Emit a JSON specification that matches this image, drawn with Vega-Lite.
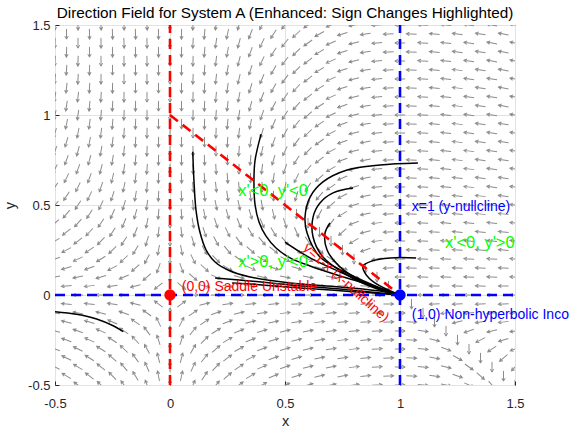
{
"$schema": "https://vega.github.io/schema/vega-lite/v6.json",
"width": 460,
"height": 360,
"autosize": {"type": "none"},
"padding": {"left": 55, "top": 25, "right": 55, "bottom": 42},
"background": "white",
"title": {"text": "Direction Field for System A (Enhanced: Sign Changes Highlighted)", "font": "Liberation Sans", "fontSize": 15.3, "fontWeight": "normal", "color": "#000000", "offset": 5, "dy": 7, "frame": "group", "anchor": "middle"},
"config": {
  "view": {"stroke": "#262626", "strokeWidth": 1},
  "axis": {"tickSize": -4, "tickColor": "#262626", "domain": false, "grid": true, "gridColor": "#e2e2e2", "labelFont": "Liberation Sans", "labelFontSize": 13, "labelColor": "#262626", "titleFont": "Liberation Sans", "titleFontSize": 14.5, "titleFontWeight": "normal", "titleColor": "#262626", "labelFlush": false, "labelOverlap": false}
},
"datasets": {
"field": [
{"x":-0.5,"y":-0.5,"a":-60},{"x":-0.5,"y":-0.4,"a":-64},{"x":-0.5,"y":-0.3,"a":-69},{"x":-0.5,"y":-0.2,"a":-75},{"x":-0.5,"y":-0.1,"a":-82},{"x":-0.5,"y":0,"a":-90},{"x":-0.5,"y":0.1,"a":-100},{"x":-0.5,"y":0.2,"a":-110},{"x":-0.5,"y":0.3,"a":-120},{"x":-0.5,"y":0.4,"a":-131},{"x":-0.5,"y":0.5,"a":-140},{"x":-0.5,"y":0.6,"a":-147},{"x":-0.5,"y":0.7,"a":-154},{"x":-0.5,"y":0.8,"a":-160},{"x":-0.5,"y":0.9,"a":-164},{"x":-0.5,"y":1,"a":-168},{"x":-0.5,"y":1.1,"a":-171},{"x":-0.5,"y":1.2,"a":-174},{"x":-0.5,"y":1.3,"a":-176},{"x":-0.5,"y":1.4,"a":-178},{"x":-0.5,"y":1.5,"a":180},
{"x":-0.4,"y":-0.5,"a":-54},{"x":-0.4,"y":-0.4,"a":-59},{"x":-0.4,"y":-0.3,"a":-64},{"x":-0.4,"y":-0.2,"a":-71},{"x":-0.4,"y":-0.1,"a":-80},{"x":-0.4,"y":0,"a":-90},{"x":-0.4,"y":0.1,"a":-102},{"x":-0.4,"y":0.2,"a":-115},{"x":-0.4,"y":0.3,"a":-127},{"x":-0.4,"y":0.4,"a":-138},{"x":-0.4,"y":0.5,"a":-147},{"x":-0.4,"y":0.6,"a":-154},{"x":-0.4,"y":0.7,"a":-160},{"x":-0.4,"y":0.8,"a":-165},{"x":-0.4,"y":0.9,"a":-169},{"x":-0.4,"y":1,"a":-172},{"x":-0.4,"y":1.1,"a":-174},{"x":-0.4,"y":1.2,"a":-177},{"x":-0.4,"y":1.3,"a":-178},{"x":-0.4,"y":1.4,"a":180},{"x":-0.4,"y":1.5,"a":179},
{"x":-0.3,"y":-0.5,"a":-47},{"x":-0.3,"y":-0.4,"a":-51},{"x":-0.3,"y":-0.3,"a":-58},{"x":-0.3,"y":-0.2,"a":-66},{"x":-0.3,"y":-0.1,"a":-76},{"x":-0.3,"y":0,"a":-90},{"x":-0.3,"y":0.1,"a":-106},{"x":-0.3,"y":0.2,"a":-122},{"x":-0.3,"y":0.3,"a":-136},{"x":-0.3,"y":0.4,"a":-146},{"x":-0.3,"y":0.5,"a":-155},{"x":-0.3,"y":0.6,"a":-161},{"x":-0.3,"y":0.7,"a":-166},{"x":-0.3,"y":0.8,"a":-170},{"x":-0.3,"y":0.9,"a":-173},{"x":-0.3,"y":1,"a":-175},{"x":-0.3,"y":1.1,"a":-177},{"x":-0.3,"y":1.2,"a":-179},{"x":-0.3,"y":1.3,"a":180},{"x":-0.3,"y":1.4,"a":179},{"x":-0.3,"y":1.5,"a":178},
{"x":-0.2,"y":-0.5,"a":-36},{"x":-0.2,"y":-0.4,"a":-40},{"x":-0.2,"y":-0.3,"a":-47},{"x":-0.2,"y":-0.2,"a":-56},{"x":-0.2,"y":-0.1,"a":-70},{"x":-0.2,"y":0,"a":-90},{"x":-0.2,"y":0.1,"a":-113},{"x":-0.2,"y":0.2,"a":-133},{"x":-0.2,"y":0.3,"a":-147},{"x":-0.2,"y":0.4,"a":-157},{"x":-0.2,"y":0.5,"a":-163},{"x":-0.2,"y":0.6,"a":-168},{"x":-0.2,"y":0.7,"a":-171},{"x":-0.2,"y":0.8,"a":-174},{"x":-0.2,"y":0.9,"a":-176},{"x":-0.2,"y":1,"a":-178},{"x":-0.2,"y":1.1,"a":-179},{"x":-0.2,"y":1.2,"a":180},{"x":-0.2,"y":1.3,"a":179},{"x":-0.2,"y":1.4,"a":178},{"x":-0.2,"y":1.5,"a":178},
{"x":-0.1,"y":-0.5,"a":-20},{"x":-0.1,"y":-0.4,"a":-24},{"x":-0.1,"y":-0.3,"a":-29},{"x":-0.1,"y":-0.2,"a":-37},{"x":-0.1,"y":-0.1,"a":-54},{"x":-0.1,"y":0,"a":-90},{"x":-0.1,"y":0.1,"a":-131},{"x":-0.1,"y":0.2,"a":-152},{"x":-0.1,"y":0.3,"a":-163},{"x":-0.1,"y":0.4,"a":-169},{"x":-0.1,"y":0.5,"a":-172},{"x":-0.1,"y":0.6,"a":-175},{"x":-0.1,"y":0.7,"a":-176},{"x":-0.1,"y":0.8,"a":-178},{"x":-0.1,"y":0.9,"a":-179},{"x":-0.1,"y":1,"a":-179},{"x":-0.1,"y":1.1,"a":180},{"x":-0.1,"y":1.2,"a":179},{"x":-0.1,"y":1.3,"a":179},{"x":-0.1,"y":1.4,"a":179},{"x":-0.1,"y":1.5,"a":178},
{"x":0,"y":-0.5,"a":0},{"x":0,"y":-0.4,"a":0},{"x":0,"y":-0.3,"a":0},{"x":0,"y":-0.2,"a":0},{"x":0,"y":-0.1,"a":0},{"x":0,"y":0.1,"a":180},{"x":0,"y":0.2,"a":180},{"x":0,"y":0.3,"a":180},{"x":0,"y":0.4,"a":180},{"x":0,"y":0.5,"a":180},{"x":0,"y":0.6,"a":180},{"x":0,"y":0.7,"a":180},{"x":0,"y":0.8,"a":180},{"x":0,"y":0.9,"a":180},{"x":0,"y":1,"a":180},{"x":0,"y":1.1,"a":180},{"x":0,"y":1.2,"a":180},{"x":0,"y":1.3,"a":180},{"x":0,"y":1.4,"a":180},{"x":0,"y":1.5,"a":180},
{"x":0.1,"y":-0.5,"a":22},{"x":0.1,"y":-0.4,"a":25},{"x":0.1,"y":-0.3,"a":30},{"x":0.1,"y":-0.2,"a":38},{"x":0.1,"y":-0.1,"a":55},{"x":0.1,"y":0,"a":90},{"x":0.1,"y":0.1,"a":131},{"x":0.1,"y":0.2,"a":154},{"x":0.1,"y":0.3,"a":164},{"x":0.1,"y":0.4,"a":170},{"x":0.1,"y":0.5,"a":174},{"x":0.1,"y":0.6,"a":176},{"x":0.1,"y":0.7,"a":178},{"x":0.1,"y":0.8,"a":179},{"x":0.1,"y":0.9,"a":180},{"x":0.1,"y":1,"a":-179},{"x":0.1,"y":1.1,"a":-179},{"x":0.1,"y":1.2,"a":-178},{"x":0.1,"y":1.3,"a":-178},{"x":0.1,"y":1.4,"a":-177},{"x":0.1,"y":1.5,"a":-177},
{"x":0.2,"y":-0.5,"a":40},{"x":0.2,"y":-0.4,"a":44},{"x":0.2,"y":-0.3,"a":50},{"x":0.2,"y":-0.2,"a":58},{"x":0.2,"y":-0.1,"a":71},{"x":0.2,"y":0,"a":90},{"x":0.2,"y":0.1,"a":114},{"x":0.2,"y":0.2,"a":136},{"x":0.2,"y":0.3,"a":152},{"x":0.2,"y":0.4,"a":162},{"x":0.2,"y":0.5,"a":169},{"x":0.2,"y":0.6,"a":174},{"x":0.2,"y":0.7,"a":177},{"x":0.2,"y":0.8,"a":180},{"x":0.2,"y":0.9,"a":-178},{"x":0.2,"y":1,"a":-176},{"x":0.2,"y":1.1,"a":-175},{"x":0.2,"y":1.2,"a":-174},{"x":0.2,"y":1.3,"a":-173},{"x":0.2,"y":1.4,"a":-172},{"x":0.2,"y":1.5,"a":-172},
{"x":0.3,"y":-0.5,"a":53},{"x":0.3,"y":-0.4,"a":56},{"x":0.3,"y":-0.3,"a":61},{"x":0.3,"y":-0.2,"a":68},{"x":0.3,"y":-0.1,"a":77},{"x":0.3,"y":0,"a":90},{"x":0.3,"y":0.1,"a":107},{"x":0.3,"y":0.2,"a":126},{"x":0.3,"y":0.3,"a":144},{"x":0.3,"y":0.4,"a":158},{"x":0.3,"y":0.5,"a":168},{"x":0.3,"y":0.6,"a":175},{"x":0.3,"y":0.7,"a":180},{"x":0.3,"y":0.8,"a":-176},{"x":0.3,"y":0.9,"a":-173},{"x":0.3,"y":1,"a":-171},{"x":0.3,"y":1.1,"a":-169},{"x":0.3,"y":1.2,"a":-167},{"x":0.3,"y":1.3,"a":-166},{"x":0.3,"y":1.4,"a":-165},{"x":0.3,"y":1.5,"a":-164},
{"x":0.4,"y":-0.5,"a":62},{"x":0.4,"y":-0.4,"a":65},{"x":0.4,"y":-0.3,"a":69},{"x":0.4,"y":-0.2,"a":74},{"x":0.4,"y":-0.1,"a":81},{"x":0.4,"y":0,"a":90},{"x":0.4,"y":0.1,"a":103},{"x":0.4,"y":0.2,"a":120},{"x":0.4,"y":0.3,"a":140},{"x":0.4,"y":0.4,"a":157},{"x":0.4,"y":0.5,"a":170},{"x":0.4,"y":0.6,"a":180},{"x":0.4,"y":0.7,"a":-173},{"x":0.4,"y":0.8,"a":-168},{"x":0.4,"y":0.9,"a":-164},{"x":0.4,"y":1,"a":-161},{"x":0.4,"y":1.1,"a":-159},{"x":0.4,"y":1.2,"a":-157},{"x":0.4,"y":1.3,"a":-155},{"x":0.4,"y":1.4,"a":-154},{"x":0.4,"y":1.5,"a":-153},
{"x":0.5,"y":-0.5,"a":69},{"x":0.5,"y":-0.4,"a":71},{"x":0.5,"y":-0.3,"a":74},{"x":0.5,"y":-0.2,"a":77},{"x":0.5,"y":-0.1,"a":83},{"x":0.5,"y":0,"a":90},{"x":0.5,"y":0.1,"a":101},{"x":0.5,"y":0.2,"a":118},{"x":0.5,"y":0.3,"a":140},{"x":0.5,"y":0.4,"a":162},{"x":0.5,"y":0.5,"a":180},{"x":0.5,"y":0.6,"a":-168},{"x":0.5,"y":0.7,"a":-160},{"x":0.5,"y":0.8,"a":-154},{"x":0.5,"y":0.9,"a":-150},{"x":0.5,"y":1,"a":-147},{"x":0.5,"y":1.1,"a":-145},{"x":0.5,"y":1.2,"a":-143},{"x":0.5,"y":1.3,"a":-142},{"x":0.5,"y":1.4,"a":-141},{"x":0.5,"y":1.5,"a":-140},
{"x":0.6,"y":-0.5,"a":74},{"x":0.6,"y":-0.4,"a":75},{"x":0.6,"y":-0.3,"a":77},{"x":0.6,"y":-0.2,"a":80},{"x":0.6,"y":-0.1,"a":84},{"x":0.6,"y":0,"a":90},{"x":0.6,"y":0.1,"a":100},{"x":0.6,"y":0.2,"a":118},{"x":0.6,"y":0.3,"a":147},{"x":0.6,"y":0.4,"a":180},{"x":0.6,"y":0.5,"a":-159},{"x":0.6,"y":0.6,"a":-147},{"x":0.6,"y":0.7,"a":-141},{"x":0.6,"y":0.8,"a":-136},{"x":0.6,"y":0.9,"a":-133},{"x":0.6,"y":1,"a":-131},{"x":0.6,"y":1.1,"a":-129},{"x":0.6,"y":1.2,"a":-128},{"x":0.6,"y":1.3,"a":-127},{"x":0.6,"y":1.4,"a":-126},{"x":0.6,"y":1.5,"a":-125},
{"x":0.7,"y":-0.5,"a":78},{"x":0.7,"y":-0.4,"a":79},{"x":0.7,"y":-0.3,"a":81},{"x":0.7,"y":-0.2,"a":82},{"x":0.7,"y":-0.1,"a":85},{"x":0.7,"y":0,"a":90},{"x":0.7,"y":0.1,"a":100},{"x":0.7,"y":0.2,"a":124},{"x":0.7,"y":0.3,"a":180},{"x":0.7,"y":0.4,"a":-143},{"x":0.7,"y":0.5,"a":-130},{"x":0.7,"y":0.6,"a":-124},{"x":0.7,"y":0.7,"a":-120},{"x":0.7,"y":0.8,"a":-118},{"x":0.7,"y":0.9,"a":-117},{"x":0.7,"y":1,"a":-116},{"x":0.7,"y":1.1,"a":-115},{"x":0.7,"y":1.2,"a":-114},{"x":0.7,"y":1.3,"a":-114},{"x":0.7,"y":1.4,"a":-113},{"x":0.7,"y":1.5,"a":-113},
{"x":0.8,"y":-0.5,"a":82},{"x":0.8,"y":-0.4,"a":83},{"x":0.8,"y":-0.3,"a":83},{"x":0.8,"y":-0.2,"a":84},{"x":0.8,"y":-0.1,"a":86},{"x":0.8,"y":0,"a":90},{"x":0.8,"y":0.1,"a":101},{"x":0.8,"y":0.2,"a":180},{"x":0.8,"y":0.3,"a":-120},{"x":0.8,"y":0.4,"a":-111},{"x":0.8,"y":0.5,"a":-108},{"x":0.8,"y":0.6,"a":-106},{"x":0.8,"y":0.7,"a":-105},{"x":0.8,"y":0.8,"a":-105},{"x":0.8,"y":0.9,"a":-104},{"x":0.8,"y":1,"a":-104},{"x":0.8,"y":1.1,"a":-104},{"x":0.8,"y":1.2,"a":-103},{"x":0.8,"y":1.3,"a":-103},{"x":0.8,"y":1.4,"a":-103},{"x":0.8,"y":1.5,"a":-103},
{"x":0.9,"y":-0.5,"a":86},{"x":0.9,"y":-0.4,"a":86},{"x":0.9,"y":-0.3,"a":86},{"x":0.9,"y":-0.2,"a":87},{"x":0.9,"y":-0.1,"a":88},{"x":0.9,"y":0,"a":90},{"x":0.9,"y":0.1,"a":180},{"x":0.9,"y":0.2,"a":-100},{"x":0.9,"y":0.3,"a":-97},{"x":0.9,"y":0.4,"a":-97},{"x":0.9,"y":0.5,"a":-96},{"x":0.9,"y":0.6,"a":-96},{"x":0.9,"y":0.7,"a":-96},{"x":0.9,"y":0.8,"a":-96},{"x":0.9,"y":0.9,"a":-96},{"x":0.9,"y":1,"a":-96},{"x":0.9,"y":1.1,"a":-95},{"x":0.9,"y":1.2,"a":-95},{"x":0.9,"y":1.3,"a":-95},{"x":0.9,"y":1.4,"a":-95},{"x":0.9,"y":1.5,"a":-95},
{"x":1,"y":-0.5,"a":90},{"x":1,"y":-0.4,"a":90},{"x":1,"y":-0.3,"a":90},{"x":1,"y":-0.2,"a":90},{"x":1,"y":-0.1,"a":90},{"x":1,"y":0.1,"a":-90},{"x":1,"y":0.2,"a":-90},{"x":1,"y":0.3,"a":-90},{"x":1,"y":0.4,"a":-90},{"x":1,"y":0.5,"a":-90},{"x":1,"y":0.6,"a":-90},{"x":1,"y":0.7,"a":-90},{"x":1,"y":0.8,"a":-90},{"x":1,"y":0.9,"a":-90},{"x":1,"y":1,"a":-90},{"x":1,"y":1.1,"a":-90},{"x":1,"y":1.2,"a":-90},{"x":1,"y":1.3,"a":-90},{"x":1,"y":1.4,"a":-90},{"x":1,"y":1.5,"a":-90},
{"x":1.1,"y":-0.5,"a":95},{"x":1.1,"y":-0.4,"a":95},{"x":1.1,"y":-0.3,"a":96},{"x":1.1,"y":-0.2,"a":98},{"x":1.1,"y":-0.1,"a":180},{"x":1.1,"y":0,"a":-90},{"x":1.1,"y":0.1,"a":-88},{"x":1.1,"y":0.2,"a":-87},{"x":1.1,"y":0.3,"a":-87},{"x":1.1,"y":0.4,"a":-87},{"x":1.1,"y":0.5,"a":-87},{"x":1.1,"y":0.6,"a":-87},{"x":1.1,"y":0.7,"a":-86},{"x":1.1,"y":0.8,"a":-86},{"x":1.1,"y":0.9,"a":-86},{"x":1.1,"y":1,"a":-86},{"x":1.1,"y":1.1,"a":-86},{"x":1.1,"y":1.2,"a":-86},{"x":1.1,"y":1.3,"a":-86},{"x":1.1,"y":1.4,"a":-86},{"x":1.1,"y":1.5,"a":-86},
{"x":1.2,"y":-0.5,"a":102},{"x":1.2,"y":-0.4,"a":105},{"x":1.2,"y":-0.3,"a":111},{"x":1.2,"y":-0.2,"a":180},{"x":1.2,"y":-0.1,"a":-97},{"x":1.2,"y":0,"a":-90},{"x":1.2,"y":0.1,"a":-88},{"x":1.2,"y":0.2,"a":-86},{"x":1.2,"y":0.3,"a":-86},{"x":1.2,"y":0.4,"a":-85},{"x":1.2,"y":0.5,"a":-85},{"x":1.2,"y":0.6,"a":-84},{"x":1.2,"y":0.7,"a":-84},{"x":1.2,"y":0.8,"a":-84},{"x":1.2,"y":0.9,"a":-84},{"x":1.2,"y":1,"a":-84},{"x":1.2,"y":1.1,"a":-84},{"x":1.2,"y":1.2,"a":-84},{"x":1.2,"y":1.3,"a":-84},{"x":1.2,"y":1.4,"a":-84},{"x":1.2,"y":1.5,"a":-83},
{"x":1.3,"y":-0.5,"a":114},{"x":1.3,"y":-0.4,"a":126},{"x":1.3,"y":-0.3,"a":180},{"x":1.3,"y":-0.2,"a":-110},{"x":1.3,"y":-0.1,"a":-95},{"x":1.3,"y":0,"a":-90},{"x":1.3,"y":0.1,"a":-87},{"x":1.3,"y":0.2,"a":-86},{"x":1.3,"y":0.3,"a":-85},{"x":1.3,"y":0.4,"a":-84},{"x":1.3,"y":0.5,"a":-84},{"x":1.3,"y":0.6,"a":-83},{"x":1.3,"y":0.7,"a":-83},{"x":1.3,"y":0.8,"a":-83},{"x":1.3,"y":0.9,"a":-82},{"x":1.3,"y":1,"a":-82},{"x":1.3,"y":1.1,"a":-82},{"x":1.3,"y":1.2,"a":-82},{"x":1.3,"y":1.3,"a":-82},{"x":1.3,"y":1.4,"a":-82},{"x":1.3,"y":1.5,"a":-81},
{"x":1.4,"y":-0.5,"a":138},{"x":1.4,"y":-0.4,"a":180},{"x":1.4,"y":-0.3,"a":-124},{"x":1.4,"y":-0.2,"a":-103},{"x":1.4,"y":-0.1,"a":-94},{"x":1.4,"y":0,"a":-90},{"x":1.4,"y":0.1,"a":-87},{"x":1.4,"y":0.2,"a":-86},{"x":1.4,"y":0.3,"a":-85},{"x":1.4,"y":0.4,"a":-84},{"x":1.4,"y":0.5,"a":-83},{"x":1.4,"y":0.6,"a":-82},{"x":1.4,"y":0.7,"a":-82},{"x":1.4,"y":0.8,"a":-82},{"x":1.4,"y":0.9,"a":-81},{"x":1.4,"y":1,"a":-81},{"x":1.4,"y":1.1,"a":-81},{"x":1.4,"y":1.2,"a":-81},{"x":1.4,"y":1.3,"a":-80},{"x":1.4,"y":1.4,"a":-80},{"x":1.4,"y":1.5,"a":-80},
{"x":1.5,"y":-0.5,"a":180},{"x":1.5,"y":-0.4,"a":-136},{"x":1.5,"y":-0.3,"a":-111},{"x":1.5,"y":-0.2,"a":-100},{"x":1.5,"y":-0.1,"a":-94},{"x":1.5,"y":0,"a":-90},{"x":1.5,"y":0.1,"a":-88},{"x":1.5,"y":0.2,"a":-86},{"x":1.5,"y":0.3,"a":-84},{"x":1.5,"y":0.4,"a":-83},{"x":1.5,"y":0.5,"a":-83},{"x":1.5,"y":0.6,"a":-82},{"x":1.5,"y":0.7,"a":-81},{"x":1.5,"y":0.8,"a":-81},{"x":1.5,"y":0.9,"a":-81},{"x":1.5,"y":1,"a":-80},{"x":1.5,"y":1.1,"a":-80},{"x":1.5,"y":1.2,"a":-80},{"x":1.5,"y":1.3,"a":-79},{"x":1.5,"y":1.4,"a":-79},{"x":1.5,"y":1.5,"a":-79},
{"x":-0.45,"y":-0.45,"a":-59},{"x":-0.45,"y":-0.35,"a":-64},{"x":-0.45,"y":-0.25,"a":-70},{"x":-0.45,"y":-0.15,"a":-77},{"x":-0.45,"y":-0.05,"a":-85},{"x":-0.45,"y":0.05,"a":-95},{"x":-0.45,"y":0.15,"a":-106},{"x":-0.45,"y":0.25,"a":-118},{"x":-0.45,"y":0.35,"a":-129},{"x":-0.45,"y":0.45,"a":-139},{"x":-0.45,"y":0.55,"a":-147},{"x":-0.45,"y":0.65,"a":-154},{"x":-0.45,"y":0.75,"a":-160},{"x":-0.45,"y":0.85,"a":-164},{"x":-0.45,"y":0.95,"a":-168},{"x":-0.45,"y":1.05,"a":-171},{"x":-0.45,"y":1.15,"a":-174},{"x":-0.45,"y":1.25,"a":-176},{"x":-0.45,"y":1.35,"a":-178},{"x":-0.45,"y":1.45,"a":180},
{"x":-0.35,"y":-0.45,"a":-53},{"x":-0.35,"y":-0.35,"a":-58},{"x":-0.35,"y":-0.25,"a":-65},{"x":-0.35,"y":-0.15,"a":-73},{"x":-0.35,"y":-0.05,"a":-84},{"x":-0.35,"y":0.05,"a":-97},{"x":-0.35,"y":0.15,"a":-111},{"x":-0.35,"y":0.25,"a":-124},{"x":-0.35,"y":0.35,"a":-137},{"x":-0.35,"y":0.45,"a":-147},{"x":-0.35,"y":0.55,"a":-154},{"x":-0.35,"y":0.65,"a":-160},{"x":-0.35,"y":0.75,"a":-165},{"x":-0.35,"y":0.85,"a":-169},{"x":-0.35,"y":0.95,"a":-172},{"x":-0.35,"y":1.05,"a":-175},{"x":-0.35,"y":1.15,"a":-177},{"x":-0.35,"y":1.25,"a":-178},{"x":-0.35,"y":1.35,"a":180},{"x":-0.35,"y":1.45,"a":179},
{"x":-0.25,"y":-0.45,"a":-44},{"x":-0.25,"y":-0.35,"a":-49},{"x":-0.25,"y":-0.25,"a":-57},{"x":-0.25,"y":-0.15,"a":-67},{"x":-0.25,"y":-0.05,"a":-81},{"x":-0.25,"y":0.05,"a":-99},{"x":-0.25,"y":0.15,"a":-118},{"x":-0.25,"y":0.25,"a":-134},{"x":-0.25,"y":0.35,"a":-147},{"x":-0.25,"y":0.45,"a":-156},{"x":-0.25,"y":0.55,"a":-162},{"x":-0.25,"y":0.65,"a":-167},{"x":-0.25,"y":0.75,"a":-170},{"x":-0.25,"y":0.85,"a":-173},{"x":-0.25,"y":0.95,"a":-175},{"x":-0.25,"y":1.05,"a":-177},{"x":-0.25,"y":1.15,"a":-179},{"x":-0.25,"y":1.25,"a":180},{"x":-0.25,"y":1.35,"a":179},{"x":-0.25,"y":1.45,"a":178},
{"x":-0.15,"y":-0.45,"a":-31},{"x":-0.15,"y":-0.35,"a":-36},{"x":-0.15,"y":-0.25,"a":-43},{"x":-0.15,"y":-0.15,"a":-55},{"x":-0.15,"y":-0.05,"a":-76},{"x":-0.15,"y":0.05,"a":-105},{"x":-0.15,"y":0.15,"a":-132},{"x":-0.15,"y":0.25,"a":-149},{"x":-0.15,"y":0.35,"a":-159},{"x":-0.15,"y":0.45,"a":-165},{"x":-0.15,"y":0.55,"a":-170},{"x":-0.15,"y":0.65,"a":-173},{"x":-0.15,"y":0.75,"a":-175},{"x":-0.15,"y":0.85,"a":-177},{"x":-0.15,"y":0.95,"a":-178},{"x":-0.15,"y":1.05,"a":-179},{"x":-0.15,"y":1.15,"a":180},{"x":-0.15,"y":1.25,"a":179},{"x":-0.15,"y":1.35,"a":179},{"x":-0.15,"y":1.45,"a":178},
{"x":-0.05,"y":-0.45,"a":-11},{"x":-0.05,"y":-0.35,"a":-14},{"x":-0.05,"y":-0.25,"a":-18},{"x":-0.05,"y":-0.15,"a":-26},{"x":-0.05,"y":-0.05,"a":-53},{"x":-0.05,"y":0.05,"a":-129},{"x":-0.05,"y":0.15,"a":-160},{"x":-0.05,"y":0.25,"a":-169},{"x":-0.05,"y":0.35,"a":-173},{"x":-0.05,"y":0.45,"a":-175},{"x":-0.05,"y":0.55,"a":-177},{"x":-0.05,"y":0.65,"a":-178},{"x":-0.05,"y":0.75,"a":-179},{"x":-0.05,"y":0.85,"a":-179},{"x":-0.05,"y":0.95,"a":180},{"x":-0.05,"y":1.05,"a":180},{"x":-0.05,"y":1.15,"a":180},{"x":-0.05,"y":1.25,"a":179},{"x":-0.05,"y":1.35,"a":179},{"x":-0.05,"y":1.45,"a":179},
{"x":0.05,"y":-0.45,"a":12},{"x":0.05,"y":-0.35,"a":14},{"x":0.05,"y":-0.25,"a":18},{"x":0.05,"y":-0.15,"a":26},{"x":0.05,"y":-0.05,"a":53},{"x":0.05,"y":0.05,"a":130},{"x":0.05,"y":0.15,"a":160},{"x":0.05,"y":0.25,"a":169},{"x":0.05,"y":0.35,"a":173},{"x":0.05,"y":0.45,"a":176},{"x":0.05,"y":0.55,"a":177},{"x":0.05,"y":0.65,"a":178},{"x":0.05,"y":0.75,"a":179},{"x":0.05,"y":0.85,"a":180},{"x":0.05,"y":0.95,"a":180},{"x":0.05,"y":1.05,"a":180},{"x":0.05,"y":1.15,"a":-179},{"x":0.05,"y":1.25,"a":-179},{"x":0.05,"y":1.35,"a":-179},{"x":0.05,"y":1.45,"a":-179},
{"x":0.15,"y":-0.45,"a":33},{"x":0.15,"y":-0.35,"a":38},{"x":0.15,"y":-0.25,"a":45},{"x":0.15,"y":-0.15,"a":56},{"x":0.15,"y":-0.05,"a":76},{"x":0.15,"y":0.05,"a":105},{"x":0.15,"y":0.15,"a":133},{"x":0.15,"y":0.25,"a":152},{"x":0.15,"y":0.35,"a":162},{"x":0.15,"y":0.45,"a":169},{"x":0.15,"y":0.55,"a":173},{"x":0.15,"y":0.65,"a":176},{"x":0.15,"y":0.75,"a":178},{"x":0.15,"y":0.85,"a":180},{"x":0.15,"y":0.95,"a":-179},{"x":0.15,"y":1.05,"a":-178},{"x":0.15,"y":1.15,"a":-177},{"x":0.15,"y":1.25,"a":-176},{"x":0.15,"y":1.35,"a":-175},{"x":0.15,"y":1.45,"a":-175},
{"x":0.25,"y":-0.45,"a":49},{"x":0.25,"y":-0.35,"a":53},{"x":0.25,"y":-0.25,"a":60},{"x":0.25,"y":-0.15,"a":69},{"x":0.25,"y":-0.05,"a":82},{"x":0.25,"y":0.05,"a":99},{"x":0.25,"y":0.15,"a":120},{"x":0.25,"y":0.25,"a":140},{"x":0.25,"y":0.35,"a":154},{"x":0.25,"y":0.45,"a":164},{"x":0.25,"y":0.55,"a":171},{"x":0.25,"y":0.65,"a":176},{"x":0.25,"y":0.75,"a":180},{"x":0.25,"y":0.85,"a":-177},{"x":0.25,"y":0.95,"a":-175},{"x":0.25,"y":1.05,"a":-173},{"x":0.25,"y":1.15,"a":-172},{"x":0.25,"y":1.25,"a":-170},{"x":0.25,"y":1.35,"a":-169},{"x":0.25,"y":1.45,"a":-168},
{"x":0.35,"y":-0.45,"a":59},{"x":0.35,"y":-0.35,"a":63},{"x":0.35,"y":-0.25,"a":68},{"x":0.35,"y":-0.15,"a":75},{"x":0.35,"y":-0.05,"a":84},{"x":0.35,"y":0.05,"a":97},{"x":0.35,"y":0.15,"a":114},{"x":0.35,"y":0.25,"a":132},{"x":0.35,"y":0.35,"a":150},{"x":0.35,"y":0.45,"a":163},{"x":0.35,"y":0.55,"a":173},{"x":0.35,"y":0.65,"a":180},{"x":0.35,"y":0.75,"a":-175},{"x":0.35,"y":0.85,"a":-171},{"x":0.35,"y":0.95,"a":-168},{"x":0.35,"y":1.05,"a":-165},{"x":0.35,"y":1.15,"a":-163},{"x":0.35,"y":1.25,"a":-162},{"x":0.35,"y":1.35,"a":-160},{"x":0.35,"y":1.45,"a":-159},
{"x":0.45,"y":-0.45,"a":67},{"x":0.45,"y":-0.35,"a":70},{"x":0.45,"y":-0.25,"a":73},{"x":0.45,"y":-0.15,"a":78},{"x":0.45,"y":-0.05,"a":85},{"x":0.45,"y":0.05,"a":95},{"x":0.45,"y":0.15,"a":110},{"x":0.45,"y":0.25,"a":129},{"x":0.45,"y":0.35,"a":149},{"x":0.45,"y":0.45,"a":167},{"x":0.45,"y":0.55,"a":180},{"x":0.45,"y":0.65,"a":-171},{"x":0.45,"y":0.75,"a":-164},{"x":0.45,"y":0.85,"a":-160},{"x":0.45,"y":0.95,"a":-156},{"x":0.45,"y":1.05,"a":-153},{"x":0.45,"y":1.15,"a":-151},{"x":0.45,"y":1.25,"a":-150},{"x":0.45,"y":1.35,"a":-148},{"x":0.45,"y":1.45,"a":-147},
{"x":0.55,"y":-0.45,"a":72},{"x":0.55,"y":-0.35,"a":74},{"x":0.55,"y":-0.25,"a":77},{"x":0.55,"y":-0.15,"a":81},{"x":0.55,"y":-0.05,"a":86},{"x":0.55,"y":0.05,"a":95},{"x":0.55,"y":0.15,"a":108},{"x":0.55,"y":0.25,"a":129},{"x":0.55,"y":0.35,"a":156},{"x":0.55,"y":0.45,"a":180},{"x":0.55,"y":0.55,"a":-164},{"x":0.55,"y":0.65,"a":-154},{"x":0.55,"y":0.75,"a":-148},{"x":0.55,"y":0.85,"a":-144},{"x":0.55,"y":0.95,"a":-141},{"x":0.55,"y":1.05,"a":-138},{"x":0.55,"y":1.15,"a":-137},{"x":0.55,"y":1.25,"a":-135},{"x":0.55,"y":1.35,"a":-134},{"x":0.55,"y":1.45,"a":-133},
{"x":0.65,"y":-0.45,"a":77},{"x":0.65,"y":-0.35,"a":78},{"x":0.65,"y":-0.25,"a":80},{"x":0.65,"y":-0.15,"a":83},{"x":0.65,"y":-0.05,"a":87},{"x":0.65,"y":0.05,"a":94},{"x":0.65,"y":0.15,"a":107},{"x":0.65,"y":0.25,"a":136},{"x":0.65,"y":0.35,"a":180},{"x":0.65,"y":0.45,"a":-152},{"x":0.65,"y":0.55,"a":-139},{"x":0.65,"y":0.65,"a":-132},{"x":0.65,"y":0.75,"a":-128},{"x":0.65,"y":0.85,"a":-126},{"x":0.65,"y":0.95,"a":-124},{"x":0.65,"y":1.05,"a":-122},{"x":0.65,"y":1.15,"a":-121},{"x":0.65,"y":1.25,"a":-120},{"x":0.65,"y":1.35,"a":-120},{"x":0.65,"y":1.45,"a":-119},
{"x":0.75,"y":-0.45,"a":80},{"x":0.75,"y":-0.35,"a":81},{"x":0.75,"y":-0.25,"a":83},{"x":0.75,"y":-0.15,"a":84},{"x":0.75,"y":-0.05,"a":88},{"x":0.75,"y":0.05,"a":94},{"x":0.75,"y":0.15,"a":111},{"x":0.75,"y":0.25,"a":180},{"x":0.75,"y":0.35,"a":-132},{"x":0.75,"y":0.45,"a":-120},{"x":0.75,"y":0.55,"a":-116},{"x":0.75,"y":0.65,"a":-113},{"x":0.75,"y":0.75,"a":-111},{"x":0.75,"y":0.85,"a":-110},{"x":0.75,"y":0.95,"a":-109},{"x":0.75,"y":1.05,"a":-109},{"x":0.75,"y":1.15,"a":-108},{"x":0.75,"y":1.25,"a":-108},{"x":0.75,"y":1.35,"a":-108},{"x":0.75,"y":1.45,"a":-107},
{"x":0.85,"y":-0.45,"a":84},{"x":0.85,"y":-0.35,"a":84},{"x":0.85,"y":-0.25,"a":85},{"x":0.85,"y":-0.15,"a":86},{"x":0.85,"y":-0.05,"a":88},{"x":0.85,"y":0.05,"a":94},{"x":0.85,"y":0.15,"a":180},{"x":0.85,"y":0.25,"a":-109},{"x":0.85,"y":0.35,"a":-104},{"x":0.85,"y":0.45,"a":-102},{"x":0.85,"y":0.55,"a":-101},{"x":0.85,"y":0.65,"a":-100},{"x":0.85,"y":0.75,"a":-100},{"x":0.85,"y":0.85,"a":-100},{"x":0.85,"y":0.95,"a":-99},{"x":0.85,"y":1.05,"a":-99},{"x":0.85,"y":1.15,"a":-99},{"x":0.85,"y":1.25,"a":-99},{"x":0.85,"y":1.35,"a":-99},{"x":0.85,"y":1.45,"a":-99},
{"x":0.95,"y":-0.45,"a":88},{"x":0.95,"y":-0.35,"a":88},{"x":0.95,"y":-0.25,"a":88},{"x":0.95,"y":-0.15,"a":88},{"x":0.95,"y":-0.05,"a":89},{"x":0.95,"y":0.05,"a":180},{"x":0.95,"y":0.15,"a":-94},{"x":0.95,"y":0.25,"a":-93},{"x":0.95,"y":0.35,"a":-93},{"x":0.95,"y":0.45,"a":-93},{"x":0.95,"y":0.55,"a":-93},{"x":0.95,"y":0.65,"a":-93},{"x":0.95,"y":0.75,"a":-93},{"x":0.95,"y":0.85,"a":-93},{"x":0.95,"y":0.95,"a":-92},{"x":0.95,"y":1.05,"a":-92},{"x":0.95,"y":1.15,"a":-92},{"x":0.95,"y":1.25,"a":-92},{"x":0.95,"y":1.35,"a":-92},{"x":0.95,"y":1.45,"a":-92},
{"x":1.05,"y":-0.45,"a":92},{"x":1.05,"y":-0.35,"a":93},{"x":1.05,"y":-0.25,"a":93},{"x":1.05,"y":-0.15,"a":93},{"x":1.05,"y":-0.05,"a":180},{"x":1.05,"y":0.05,"a":-89},{"x":1.05,"y":0.15,"a":-88},{"x":1.05,"y":0.25,"a":-88},{"x":1.05,"y":0.35,"a":-88},{"x":1.05,"y":0.45,"a":-88},{"x":1.05,"y":0.55,"a":-88},{"x":1.05,"y":0.65,"a":-88},{"x":1.05,"y":0.75,"a":-88},{"x":1.05,"y":0.85,"a":-88},{"x":1.05,"y":0.95,"a":-88},{"x":1.05,"y":1.05,"a":-88},{"x":1.05,"y":1.15,"a":-88},{"x":1.05,"y":1.25,"a":-88},{"x":1.05,"y":1.35,"a":-88},{"x":1.05,"y":1.45,"a":-88},
{"x":1.15,"y":-0.45,"a":99},{"x":1.15,"y":-0.35,"a":100},{"x":1.15,"y":-0.25,"a":104},{"x":1.15,"y":-0.15,"a":180},{"x":1.15,"y":-0.05,"a":-93},{"x":1.15,"y":0.05,"a":-89},{"x":1.15,"y":0.15,"a":-87},{"x":1.15,"y":0.25,"a":-86},{"x":1.15,"y":0.35,"a":-86},{"x":1.15,"y":0.45,"a":-86},{"x":1.15,"y":0.55,"a":-85},{"x":1.15,"y":0.65,"a":-85},{"x":1.15,"y":0.75,"a":-85},{"x":1.15,"y":0.85,"a":-85},{"x":1.15,"y":0.95,"a":-85},{"x":1.15,"y":1.05,"a":-85},{"x":1.15,"y":1.15,"a":-85},{"x":1.15,"y":1.25,"a":-85},{"x":1.15,"y":1.35,"a":-85},{"x":1.15,"y":1.45,"a":-85},
{"x":1.25,"y":-0.45,"a":109},{"x":1.25,"y":-0.35,"a":119},{"x":1.25,"y":-0.25,"a":180},{"x":1.25,"y":-0.15,"a":-103},{"x":1.25,"y":-0.05,"a":-92},{"x":1.25,"y":0.05,"a":-88},{"x":1.25,"y":0.15,"a":-87},{"x":1.25,"y":0.25,"a":-86},{"x":1.25,"y":0.35,"a":-85},{"x":1.25,"y":0.45,"a":-84},{"x":1.25,"y":0.55,"a":-84},{"x":1.25,"y":0.65,"a":-84},{"x":1.25,"y":0.75,"a":-83},{"x":1.25,"y":0.85,"a":-83},{"x":1.25,"y":0.95,"a":-83},{"x":1.25,"y":1.05,"a":-83},{"x":1.25,"y":1.15,"a":-83},{"x":1.25,"y":1.25,"a":-83},{"x":1.25,"y":1.35,"a":-82},{"x":1.25,"y":1.45,"a":-82},
{"x":1.35,"y":-0.45,"a":132},{"x":1.35,"y":-0.35,"a":180},{"x":1.35,"y":-0.25,"a":-117},{"x":1.35,"y":-0.15,"a":-99},{"x":1.35,"y":-0.05,"a":-92},{"x":1.35,"y":0.05,"a":-88},{"x":1.35,"y":0.15,"a":-87},{"x":1.35,"y":0.25,"a":-85},{"x":1.35,"y":0.35,"a":-84},{"x":1.35,"y":0.45,"a":-83},{"x":1.35,"y":0.55,"a":-83},{"x":1.35,"y":0.65,"a":-82},{"x":1.35,"y":0.75,"a":-82},{"x":1.35,"y":0.85,"a":-82},{"x":1.35,"y":0.95,"a":-82},{"x":1.35,"y":1.05,"a":-81},{"x":1.35,"y":1.15,"a":-81},{"x":1.35,"y":1.25,"a":-81},{"x":1.35,"y":1.35,"a":-81},{"x":1.35,"y":1.45,"a":-81},
{"x":1.45,"y":-0.45,"a":180},{"x":1.45,"y":-0.35,"a":-130},{"x":1.45,"y":-0.25,"a":-107},{"x":1.45,"y":-0.15,"a":-97},{"x":1.45,"y":-0.05,"a":-92},{"x":1.45,"y":0.05,"a":-89},{"x":1.45,"y":0.15,"a":-87},{"x":1.45,"y":0.25,"a":-85},{"x":1.45,"y":0.35,"a":-84},{"x":1.45,"y":0.45,"a":-83},{"x":1.45,"y":0.55,"a":-82},{"x":1.45,"y":0.65,"a":-82},{"x":1.45,"y":0.75,"a":-81},{"x":1.45,"y":0.85,"a":-81},{"x":1.45,"y":0.95,"a":-81},{"x":1.45,"y":1.05,"a":-80},{"x":1.45,"y":1.15,"a":-80},{"x":1.45,"y":1.25,"a":-80},{"x":1.45,"y":1.35,"a":-80},{"x":1.45,"y":1.45,"a":-80}
],
"traj": [
{"id":"A","i":0,"x":0.099,"y":0.796},{"id":"A","i":1,"x":0.104,"y":0.639},{"id":"A","i":2,"x":0.113,"y":0.472},{"id":"A","i":3,"x":0.13,"y":0.35},{"id":"A","i":4,"x":0.157,"y":0.25},{"id":"A","i":5,"x":0.196,"y":0.183},{"id":"A","i":6,"x":0.252,"y":0.139},{"id":"A","i":7,"x":0.348,"y":0.1},{"id":"A","i":8,"x":0.522,"y":0.067},{"id":"A","i":9,"x":0.739,"y":0.044},{"id":"A","i":10,"x":0.913,"y":0.022},{"id":"A","i":11,"x":1.0,"y":0.0},
{"id":"B","i":0,"x":0.396,"y":0.894},{"id":"B","i":1,"x":0.37,"y":0.75},{"id":"B","i":2,"x":0.365,"y":0.639},{"id":"B","i":3,"x":0.37,"y":0.5},{"id":"B","i":4,"x":0.387,"y":0.406},{"id":"B","i":5,"x":0.417,"y":0.328},{"id":"B","i":6,"x":0.461,"y":0.261},{"id":"B","i":7,"x":0.522,"y":0.206},{"id":"B","i":8,"x":0.609,"y":0.161},{"id":"B","i":9,"x":0.739,"y":0.106},{"id":"B","i":10,"x":0.87,"y":0.056},{"id":"B","i":11,"x":1.0,"y":0.0},
{"id":"C","i":0,"x":0.196,"y":0.094},{"id":"C","i":1,"x":0.348,"y":0.078},{"id":"C","i":2,"x":0.522,"y":0.056},{"id":"C","i":3,"x":0.739,"y":0.033},{"id":"C","i":4,"x":1.0,"y":0.0},
{"id":"D","i":0,"x":0.27,"y":0.067},{"id":"D","i":1,"x":0.4,"y":0.056},{"id":"D","i":2,"x":0.565,"y":0.039},{"id":"D","i":3,"x":0.78,"y":0.02},{"id":"D","i":4,"x":1.0,"y":0.0},
{"id":"E","i":0,"x":1.078,"y":0.733},{"id":"E","i":1,"x":0.913,"y":0.722},{"id":"E","i":2,"x":0.77,"y":0.694},{"id":"E","i":3,"x":0.665,"y":0.628},{"id":"E","i":4,"x":0.609,"y":0.544},{"id":"E","i":5,"x":0.587,"y":0.433},{"id":"E","i":6,"x":0.596,"y":0.344},{"id":"E","i":7,"x":0.652,"y":0.211},{"id":"E","i":8,"x":0.77,"y":0.122},{"id":"E","i":9,"x":0.913,"y":0.039},{"id":"E","i":10,"x":1.0,"y":0.0},
{"id":"F","i":0,"x":0.796,"y":0.594},{"id":"F","i":1,"x":0.709,"y":0.567},{"id":"F","i":2,"x":0.652,"y":0.511},{"id":"F","i":3,"x":0.622,"y":0.433},{"id":"F","i":4,"x":0.622,"y":0.322},{"id":"F","i":5,"x":0.665,"y":0.211},{"id":"F","i":6,"x":0.77,"y":0.111},{"id":"F","i":7,"x":0.913,"y":0.028},{"id":"F","i":8,"x":1.0,"y":0.0},
{"id":"G","i":0,"x":0.696,"y":0.4},{"id":"G","i":1,"x":0.674,"y":0.344},{"id":"G","i":2,"x":0.683,"y":0.25},{"id":"G","i":3,"x":0.739,"y":0.156},{"id":"G","i":4,"x":0.839,"y":0.072},{"id":"G","i":5,"x":1.0,"y":0.0},
{"id":"I","i":0,"x":0.5,"y":0.294},{"id":"I","i":1,"x":0.609,"y":0.206},{"id":"I","i":2,"x":0.739,"y":0.128},{"id":"I","i":3,"x":0.87,"y":0.056},{"id":"I","i":4,"x":1.0,"y":0.0},
{"id":"J","i":0,"x":1.07,"y":0.206},{"id":"J","i":1,"x":0.957,"y":0.206},{"id":"J","i":2,"x":0.878,"y":0.189},{"id":"J","i":3,"x":0.839,"y":0.161},{"id":"J","i":4,"x":0.848,"y":0.122},{"id":"J","i":5,"x":0.891,"y":0.067},{"id":"J","i":6,"x":1.0,"y":0.0},
{"id":"K","i":0,"x":-0.5,"y":-0.093},{"id":"K","i":1,"x":-0.406,"y":-0.107},{"id":"K","i":2,"x":-0.319,"y":-0.133},{"id":"K","i":3,"x":-0.247,"y":-0.171},{"id":"K","i":4,"x":-0.203,"y":-0.204}
],
"nc": [
{"x":0,"y":-0.5,"x2":0,"y2":1.5,"c":"r"},
{"x":0,"y":1,"x2":1,"y2":0,"c":"r"},
{"x":1,"y":-0.5,"x2":1,"y2":1.5,"c":"b"},
{"x":-0.5,"y":0,"x2":1.5,"y2":0,"c":"b"}
]
},
"encoding": {
  "x": {"field": "x", "type": "quantitative", "scale": {"domain": [-0.5, 1.5], "nice": false, "zero": false}, "axis": {"values": [-0.5, 0, 0.5, 1, 1.5], "labelExpr": "toString(datum.value)", "title": "x", "labelPadding": 16, "titlePadding": 4}},
  "y": {"field": "y", "type": "quantitative", "scale": {"domain": [-0.5, 1.5], "nice": false, "zero": false}, "axis": {"values": [-0.5, 0, 0.5, 1, 1.5], "labelExpr": "toString(datum.value)", "title": "y", "labelPadding": 9, "titlePadding": 10}}
},
"layer": [
  {"data": {"name": "field"}, "mark": {"type": "point", "shape": "M0,1L0,-1M-0.32,-0.42L0,-1L0.32,-0.42", "filled": false, "color": "#8c8c8c", "strokeWidth": 1, "size": 105, "opacity": 1, "clip": true},
   "encoding": {"angle": {"field": "a", "type": "quantitative", "scale": null}}},
  {"data": {"name": "traj"}, "mark": {"type": "line", "color": "#000000", "strokeWidth": 1.5, "interpolate": "catmull-rom", "clip": true},
   "encoding": {"detail": {"field": "id", "type": "nominal"}, "order": {"field": "i", "type": "quantitative"}}},
  {"data": {"name": "nc"}, "mark": {"type": "rule", "strokeWidth": 2.6, "strokeDash": [10, 6], "clip": true},
   "encoding": {"x2": {"field": "x2"}, "y2": {"field": "y2"}, "color": {"field": "c", "type": "nominal", "scale": {"domain": ["r", "b"], "range": ["#ff0000", "#0000ff"]}, "legend": null}}},
  {"data": {"values": [{"x": 0, "y": 0, "c": "r"}, {"x": 1, "y": 0, "c": "b"}]}, "mark": {"type": "point", "shape": "circle", "filled": true, "size": 130, "opacity": 1},
   "encoding": {"color": {"field": "c", "type": "nominal", "scale": {"domain": ["r", "b"], "range": ["#ff0000", "#0000ff"]}, "legend": null}}},
  {"data": {"values": [{"x": 0.297, "y": 0.58, "t": "x'<0, y'<0"}, {"x": 0.297, "y": 0.182, "t": "x'>0, y'<0"}, {"x": 1.196, "y": 0.287, "t": "x'<0, y'>0"}]},
   "mark": {"type": "text", "align": "left", "baseline": "middle", "font": "Liberation Sans", "fontSize": 16.5, "color": "#00ff00"},
   "encoding": {"text": {"field": "t"}}},
  {"data": {"values": [{"x": 0.051, "y": 0.043, "t": "(0,0) Saddle Unstable"}]},
   "mark": {"type": "text", "align": "left", "baseline": "middle", "font": "Liberation Sans", "fontSize": 14, "color": "#ff0000"},
   "encoding": {"text": {"field": "t"}}},
  {"data": {"values": [{"x": 0.587, "y": 0.272, "t": "y=1-x (x-nullcline)"}]},
   "mark": {"type": "text", "align": "left", "baseline": "middle", "font": "Liberation Sans", "fontSize": 14, "color": "#ff0000", "angle": 42},
   "encoding": {"text": {"field": "t"}}},
  {"data": {"values": [{"x": 1.051, "y": 0.491, "t": "x=1 (y-nullcline)"}, {"x": 1.051, "y": -0.111, "t": "(1,0) Non-hyperbolic Inco"}]},
   "mark": {"type": "text", "align": "left", "baseline": "middle", "font": "Liberation Sans", "fontSize": 14, "color": "#0000ff"},
   "encoding": {"text": {"field": "t"}}}
]
}
